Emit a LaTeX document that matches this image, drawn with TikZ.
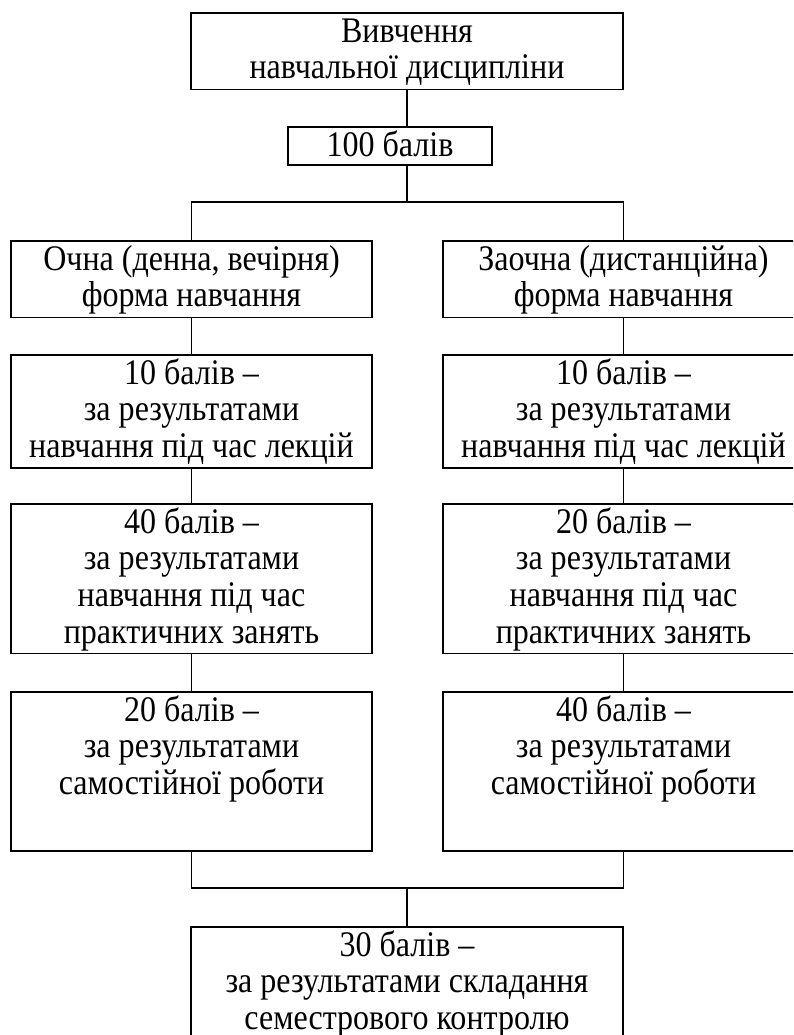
\documentclass[tikz,border=0pt]{standalone}
\usepackage{fontspec}
\setmainfont{Liberation Serif}[FakeStretch=0.89]
\newcommand\tstr{\rule{0pt}{29.5pt}}
\newcommand\bstr[1][10.5pt]{\rule[-#1]{0pt}{#1}}
\begin{document}
\begin{tikzpicture}[x=1pt,y=-1pt,
  box/.style={draw=black, line width=1.6pt, rectangle, align=center, anchor=north,
    inner xsep=0pt, inner ysep=0pt,
    font=\fontsize{36}{36.6}\selectfont},
  colbox/.style={box, minimum width=361pt},
  link/.style={draw=black, line width=1.6pt}]
\useasboundingbox (0,0) rectangle (793,1035);
\clip (0,0) rectangle (793,1035);
\fill[white] (0,0) rectangle (793,1035);

\node[box, minimum width=432pt] (top) at (407,12) {\tstr Вивчення\\навчальної дисципліни\bstr};
\node[box, minimum width=204pt] (pts) at (390,126) {\tstr 100 балів\bstr[9pt]};

\node[colbox] (f1) at (191.5,240) {\tstr Очна (денна, вечірня)\\форма навчання\bstr};
\node[colbox] (f2) at (623.5,240) {\tstr Заочна (дистанційна)\\форма навчання\bstr};

\node[colbox] (l1) at (191.5,354) {\tstr 10 балів –\\за результатами\\навчання під час лекцій\bstr};
\node[colbox] (l2) at (623.5,354) {\tstr 10 балів –\\за результатами\\навчання під час лекцій\bstr};

\node[colbox] (p1) at (191.5,503) {\tstr 40 балів –\\за результатами\\навчання під час\\практичних занять\bstr};
\node[colbox] (p2) at (623.5,503) {\tstr 20 балів –\\за результатами\\навчання під час\\практичних занять\bstr};

\node[colbox] (s1) at (191.5,691) {\tstr 20 балів –\\за результатами\\самостійної роботи\bstr[56.3pt]};
\node[colbox] (s2) at (623.5,691) {\tstr 40 балів –\\за результатами\\самостійної роботи\bstr[56.3pt]};

\node[box, minimum width=432pt] (fin) at (407,926) {\tstr 30 балів –\\за результатами складання\\семестрового контролю\bstr};

\coordinate (j1) at (407,202);
\coordinate (j2) at (407,888);

\draw[link] (top.south) -- (top.south |- pts.north);
\draw[link] (top.south |- pts.south) -- (j1);
\draw[link] (f1.north) |- (j1) -| (f2.north);
\draw[link] (f1.south) -- (l1.north);
\draw[link] (f2.south) -- (l2.north);
\draw[link] (l1.south) -- (p1.north);
\draw[link] (l2.south) -- (p2.north);
\draw[link] (p1.south) -- (s1.north);
\draw[link] (p2.south) -- (s2.north);
\draw[link] (s1.south) |- (j2) -| (s2.south);
\draw[link] (j2) -- (fin.north);
\end{tikzpicture}
\end{document}
